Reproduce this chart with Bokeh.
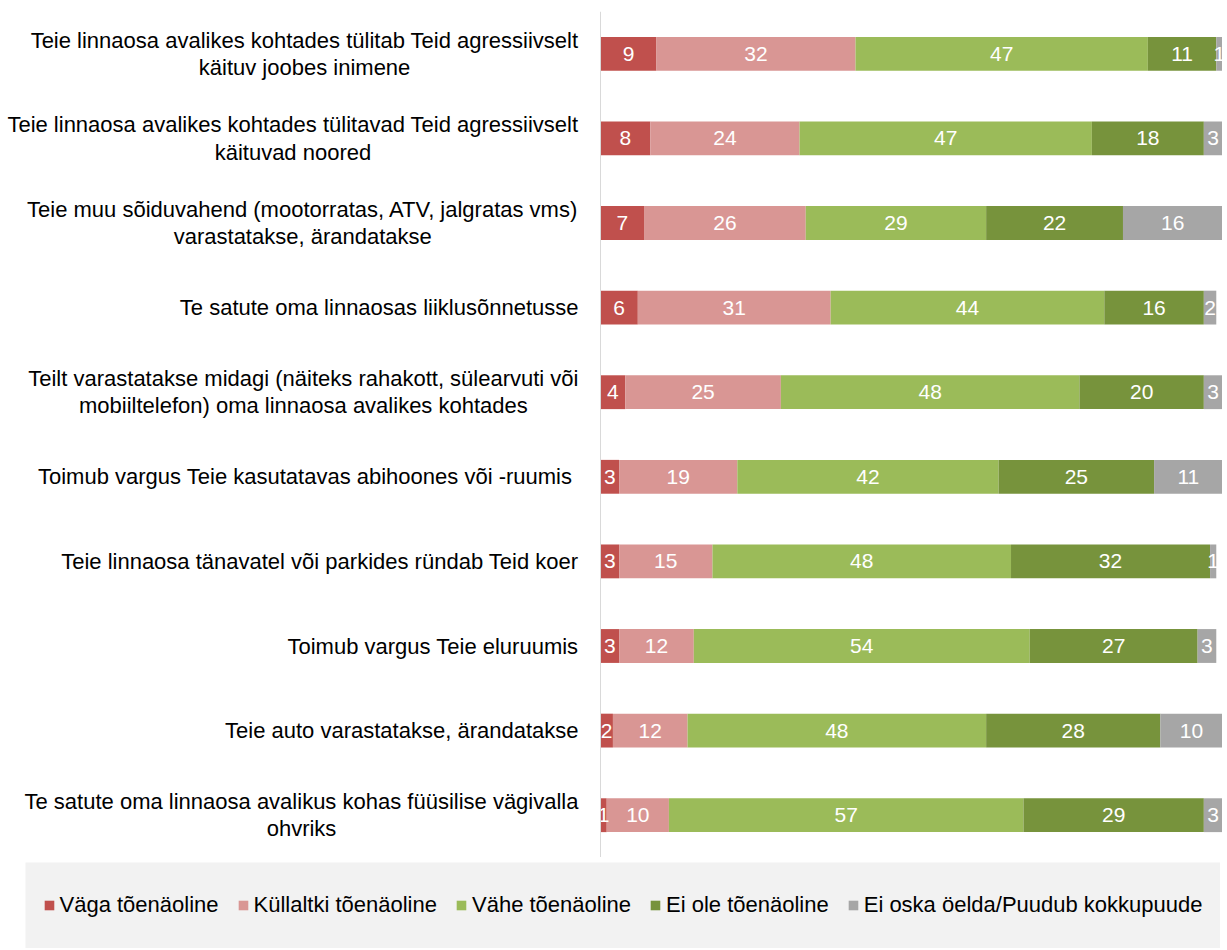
from bokeh.plotting import figure
from bokeh.models import ColumnDataSource, FactorRange, Range1d, Span, Legend, LegendItem
from bokeh.layouts import column
from bokeh.core.properties import value
from bokeh.embed import file_html
from bokeh.resources import INLINE

categories = [
    "Teie linnaosa avalikes kohtades tülitab Teid agressiivselt\nkäituv joobes inimene",
    "Teie linnaosa avalikes kohtades tülitavad Teid agressiivselt\nkäituvad noored",
    "Teie muu sõiduvahend (mootorratas, ATV, jalgratas vms)\nvarastatakse, ärandatakse",
    "Te satute oma linnaosas liiklusõnnetusse",
    "Teilt varastatakse midagi (näiteks rahakott, sülearvuti või\nmobiiltelefon) oma linnaosa avalikes kohtades",
    "Toimub vargus Teie kasutatavas abihoones või -ruumis ",
    "Teie linnaosa tänavatel või parkides ründab Teid koer",
    "Toimub vargus Teie eluruumis",
    "Teie auto varastatakse, ärandatakse",
    "Te satute oma linnaosa avalikus kohas füüsilise vägivalla\nohvriks",
]
series = ["Väga tõenäoline", "Küllaltki tõenäoline", "Vähe tõenäoline",
          "Ei ole tõenäoline", "Ei oska öelda/Puudub kokkupuude"]
vaga = [9, 8, 7, 6, 4, 3, 3, 3, 2, 1]
kullaltki = [32, 24, 26, 31, 25, 19, 15, 12, 12, 10]
vahe = [47, 47, 29, 44, 48, 42, 48, 54, 48, 57]
ei_ole = [11, 18, 22, 16, 20, 25, 32, 27, 28, 29]
ei_oska = [1, 3, 16, 2, 3, 11, 1, 3, 10, 3]
colors = ["#C0504D", "#D99694", "#9BBB59", "#77933C", "#A6A6A6"]

FONT = "Liberation Sans"
FS = "22px"
FS_VAL = "21px"

keys = ["s0", "s1", "s2", "s3", "s4"]
values = [vaga, kullaltki, vahe, ei_ole, ei_oska]
data = {"cat": categories}
for k, v in zip(keys, values):
    data[k] = v
src = ColumnDataSource(data)

p = figure(width=1222, height=857,
           y_range=FactorRange(factors=list(reversed(categories)), range_padding=0),
           x_range=Range1d(-96.46, 100), x_axis_location=None, y_axis_location=None,
           toolbar_location=None, output_backend="svg",
           min_border_left=0, min_border_right=0, min_border_top=11, min_border_bottom=0)
p.outline_line_color = None
p.xgrid.visible = False
p.ygrid.visible = False

p.hbar_stack(keys, y="cat", height=0.4, color=colors, line_color=None, source=src)

p.add_layout(Span(location=0, dimension="height", line_color="#D9D9D9", line_width=1))

# segment value labels
cum = [0] * len(categories)
for v in values:
    mids = [c + x / 2 for c, x in zip(cum, v)]
    cum = [c + x for c, x in zip(cum, v)]
    p.text(x=mids, y=categories, text=[str(x) for x in v], text_color="white",
           text_font=value(FONT), text_font_size=FS_VAL, text_align="center", text_baseline="middle")

# category labels
p.text(x=[0] * len(categories), y=categories, text=categories, x_offset=-22,
       text_align="center", anchor="center_right", text_baseline="middle",
       text_font=value(FONT), text_font_size=FS, text_color="#000000", text_line_height=1.1)

# legend panel
lg = figure(width=1195, height=86, x_range=Range1d(0, 1),
            y_range=FactorRange(factors=list(reversed(categories))),
            x_axis_location=None, y_axis_location=None, toolbar_location=None,
            output_backend="svg", min_border=0, background_fill_color="#F2F2F2",
            border_fill_color="#F2F2F2")
lg.outline_line_color = None
lg.xgrid.visible = False
lg.ygrid.visible = False
lg.margin = (5, 0, 0, 25)
swatches = lg.hbar_stack(keys, y="cat", height=0.4, color=colors, line_color=None, source=src)
for r in swatches:
    r.visible = False
items = [LegendItem(label=s, renderers=[r]) for s, r in zip(series, swatches)]
legend = Legend(items=items, orientation="horizontal", location="center",
                background_fill_alpha=0, border_line_color=None,
                label_text_font=FONT, label_text_font_size=FS, label_text_color="#000000",
                glyph_width=12, glyph_height=12, label_standoff=5, spacing=18,
                padding=0, margin=0)
lg.add_layout(legend, "center")

layout = column(p, lg, spacing=0)
open("out.html", "w").write(file_html(layout, INLINE))
